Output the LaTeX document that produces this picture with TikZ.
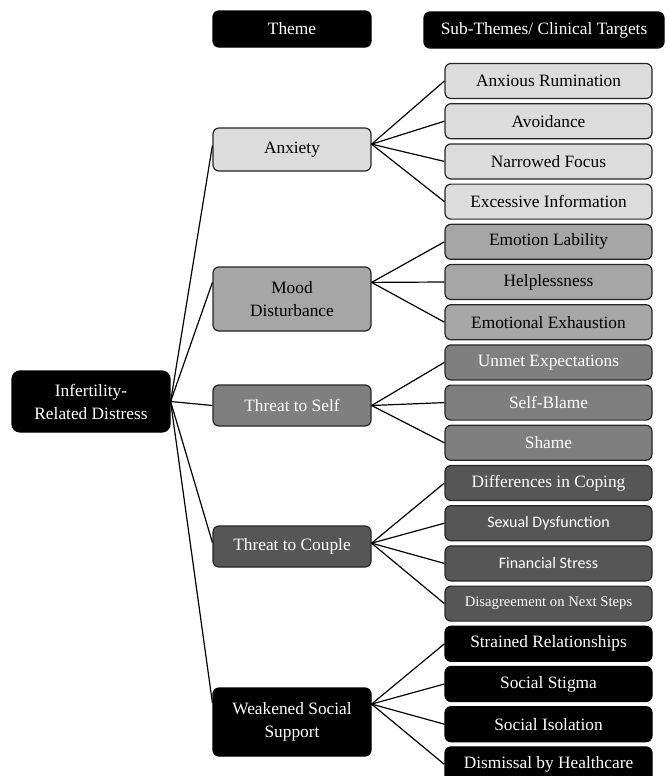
\documentclass[tikz,border=0pt]{standalone}
\usepackage{fontspec}
\setmainfont{Liberation Serif}
\newfontfamily\sansc{Carlito}
\definecolor{gA}{HTML}{DCDCDC}
\definecolor{gB}{HTML}{A6A6A6}
\definecolor{gC}{HTML}{7F7F7F}
\definecolor{gD}{HTML}{565656}
\definecolor{edge}{HTML}{262626}
\begin{document}
\begin{tikzpicture}[x=0.75pt,y=-0.75pt,
  box/.style={draw=edge, line width=0.9pt, rounded corners=4.5pt, inner sep=0pt,
    align=center, font=\fontsize{13}{17.25}\selectfont},
  sub/.style={box, minimum width=155.25pt, minimum height=26.25pt},
  theme/.style={box, minimum width=118.5pt},
  hdr/.style={box, fill=black, draw=black, text=white, minimum height=27pt},
  lvA/.style={fill=gA, text=black},
  lvB/.style={fill=gB, text=black},
  lvC/.style={fill=gC, text=white},
  lvD/.style={fill=gD, text=white},
  lvE/.style={fill=black, draw=black, text=white},
  link/.style={line width=0.9pt, draw=black}]
\useasboundingbox (0,0) rectangle (670,776);

% headers
\node[hdr, minimum width=118.5pt] (hTheme) at (292,29) {Theme};
\node[hdr, minimum width=180pt] (hSub) at (544,30) {Sub-Themes/ Clinical Targets};

% root
\node[box, lvE, rounded corners=6pt, minimum width=118.5pt, minimum height=45.75pt] (root) at (91,401.5) {Infertility-\\Related Distress};

% themes
\node[theme, lvA, minimum height=32.25pt] (anx) at (292,149.5) {Anxiety};
\node[theme, lvB, minimum height=48pt] (mood) at (292,299) {Mood\\Disturbance};
\node[theme, lvC, minimum height=30.75pt] (self) at (292,405.5) {Threat to Self};
\node[theme, lvD, minimum height=30.75pt] (couple) at (292,546.5) {Threat to Couple};
\node[theme, lvE, minimum height=51pt] (social) at (292,722) {Weakened Social\\Support};

% sub-themes
\node[sub, lvA] (s1) at (548.5,81) {Anxious Rumination};
\node[sub, lvA] (s2) at (548.5,121.2) {Avoidance};
\node[sub, lvA] (s3) at (548.5,161.4) {Narrowed Focus};
\node[sub, lvA] (s4) at (548.5,201.6) {Excessive Information};
\node[sub, lvB] (s5) at (548.5,241.8) {Emotion Lability};
\node[sub, lvB] (s6) at (548.5,282) {Helplessness};
\node[sub, lvB] (s7) at (548.5,322.2) {Emotional Exhaustion};
\node[sub, lvC] (s8) at (548.5,362.4) {Unmet Expectations};
\node[sub, lvC] (s9) at (548.5,402.6) {Self-Blame};
\node[sub, lvC] (s10) at (548.5,442.8) {Shame};
\node[sub, lvD] (s11) at (548.5,483) {Differences in Coping};
\node[sub, lvD] (s12) at (548.5,523.2) {\sansc\fontsize{12}{14}\selectfont Sexual Dysfunction};
\node[sub, lvD] (s13) at (548.5,563.4) {\sansc\fontsize{12}{14}\selectfont Financial Stress};
\node[sub, lvD] (s14) at (548.5,603.6) {\fontsize{11}{13}\selectfont Disagreement on Next Steps};
\node[sub, lvE] (s15) at (548.5,643.8) {Strained Relationships};
\node[sub, lvE] (s16) at (548.5,684) {Social Stigma};
\node[sub, lvE] (s17) at (548.5,724.2) {Social Isolation};
\node[sub, lvE] (s18) at (548.5,764.4) {Dismissal by Healthcare};

% attachment points
\coordinate (anxL) at ([yshift=3pt]anx.west);
\coordinate (anxR) at ([yshift=4pt]anx.east);
\coordinate (moodL) at ([yshift=-12pt]mood.north west);
\coordinate (moodR) at ([yshift=-12pt]mood.north east);
\coordinate (coupleL) at ([yshift=3pt]couple.west);
\coordinate (coupleR) at ([yshift=2.5pt]couple.east);
\coordinate (socialL) at ([yshift=-11.5pt]social.north west);
\coordinate (socialR) at ([yshift=-12.5pt]social.north east);

% root to themes
\draw[link] (root.east) -- (anxL);
\draw[link] (root.east) -- (moodL);
\draw[link] (root.east) -- (self.west);
\draw[link] (root.east) -- (coupleL);
\draw[link] (root.east) -- (socialL);

% themes to sub-themes
\foreach \s in {s1,s2,s3,s4} \draw[link] (anxR) -- (\s.west);
\foreach \s in {s5,s6,s7} \draw[link] (moodR) -- (\s.west);
\foreach \s in {s8,s9,s10} \draw[link] (self.east) -- (\s.west);
\foreach \s in {s11,s12,s13,s14} \draw[link] (coupleR) -- (\s.west);
\foreach \s in {s15,s16,s17,s18} \draw[link] (socialR) -- (\s.west);
\end{tikzpicture}
\end{document}
